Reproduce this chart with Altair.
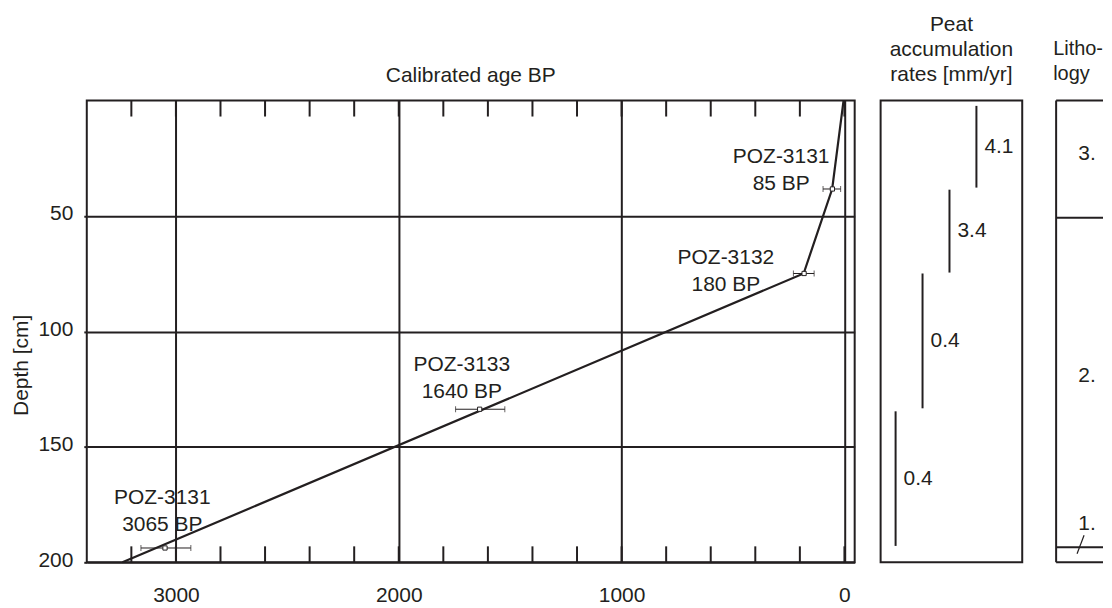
import altair as alt
import pandas as pd

INK = "#231f20"
FONT = "Liberation Sans"
FS = 21

# ---- age-depth model (calibrated age BP vs depth cm)
model_age = [4, 55, 183, 3240]
model_depth = [0, 38.3, 74.9, 200]

# ---- radiocarbon dates
lab_code = ["POZ-3131", "POZ-3132", "POZ-3133", "POZ-3131"]
lab_bp = ["85 BP", "180 BP", "1640 BP", "3065 BP"]
date_age = [54, 181, 1637, 3049]
date_depth = [38.3, 74.9, 133.7, 193.8]
date_lo = [17, 136, 1524, 2933]
date_hi = [96, 229, 1745, 3157]
label_age = [284, 532, 1717, 3061]
label_depth = [27.1, 71.0, 117.2, 174.8]

# ---- axes
age_major = [3000, 2000, 1000, 0]
age_minor = [3200, 3000, 2800, 2600, 2400, 2200, 2000, 1800, 1600, 1400,
             1200, 1000, 800, 600, 400, 200, 0]
depth_major = [50, 100, 150, 200]

# ---- peat accumulation rates
rate_top = [2.3, 38.6, 74.9, 134.6]
rate_bottom = [37.7, 74.5, 133.3, 192.9]
rate_label = ["4.1", "3.4", "0.4", "0.4"]
rate_step = [3, 2, 1, 0]

# ---- lithology
unit_bounds = [0, 50.8, 193.5, 200]
unit_label = ["3.", "2.", "1."]
unit_label_depth = [23, 119.5, 183.6]
leader_top = [188.3]
leader_bottom = [196.3]

W, H = 770, 463

model_df = pd.DataFrame({"age": model_age, "depth": model_depth})
dates_df = pd.DataFrame({
    "age": date_age, "depth": date_depth, "lo": date_lo, "hi": date_hi,
    "lx": label_age, "ly": label_depth,
    "txt": [c + "\n" + b for c, b in zip(lab_code, lab_bp)],
})
ticks_df = pd.DataFrame({"age": age_minor})

xs = alt.Scale(domain=[3400, -46], nice=False, zero=False)
ys = alt.Scale(domain=[0, 200], reverse=True, nice=False, zero=False)

x_axis = alt.Axis(values=age_major, format="d", grid=True, gridColor=INK, gridWidth=2,
                  gridOpacity=1, ticks=False, tickSize=0, domain=False,
                  labelFontSize=FS, labelFont=FONT, labelColor=INK,
                  labelBaseline="alphabetic", labelPadding=39, title=None)
y_axis = alt.Axis(values=depth_major, grid=True, gridColor=INK, gridWidth=2, gridOpacity=1,
                  ticks=True, tickSize=3, tickWidth=2, tickColor=INK, domain=False,
                  labelFontSize=FS, labelFont=FONT, labelColor=INK, labelPadding=11,
                  labelOffset=-2,
                  title="Depth [cm]", titleFontSize=FS, titleFont=FONT, titleColor=INK,
                  titleFontWeight="normal", titleX=-65, titleY=265, titleAngle=270,
                  titleAlign="center", titleBaseline="middle")

line = alt.Chart(model_df).mark_line(color=INK, strokeWidth=2.2).encode(
    x=alt.X("age:Q", scale=xs, axis=x_axis),
    y=alt.Y("depth:Q", scale=ys, axis=y_axis),
    order=alt.Order("depth:Q"),
)
top_ticks = alt.Chart(ticks_df).mark_rule(color=INK, strokeWidth=2).encode(
    x=alt.X("age:Q", scale=xs), y=alt.value(0), y2=alt.value(16))
bot_ticks = alt.Chart(ticks_df).mark_rule(color=INK, strokeWidth=2).encode(
    x=alt.X("age:Q", scale=xs), y=alt.value(H - 16), y2=alt.value(H))
err = alt.Chart(dates_df).mark_rule(color=INK, strokeWidth=1).encode(
    x=alt.X("lo:Q", scale=xs), x2="hi:Q", y=alt.Y("depth:Q", scale=ys))
cap_lo = alt.Chart(dates_df).mark_tick(orient="vertical", color=INK, size=6, thickness=1).encode(
    x=alt.X("lo:Q", scale=xs), y=alt.Y("depth:Q", scale=ys))
cap_hi = alt.Chart(dates_df).mark_tick(orient="vertical", color=INK, size=6, thickness=1).encode(
    x=alt.X("hi:Q", scale=xs), y=alt.Y("depth:Q", scale=ys))
pts = alt.Chart(dates_df).mark_point(shape="square", size=18, fill="white", stroke=INK,
                                     strokeWidth=1, opacity=1, fillOpacity=1).encode(
    x=alt.X("age:Q", scale=xs), y=alt.Y("depth:Q", scale=ys))
labels = alt.Chart(dates_df).mark_text(align="center", baseline="alphabetic", lineBreak="\n",
                                       lineHeight=26.7, fontSize=FS, font=FONT, color=INK).encode(
    x=alt.X("lx:Q", scale=xs), y=alt.Y("ly:Q", scale=ys), text="txt:N")

main = alt.layer(top_ticks, bot_ticks, line, err, cap_lo, cap_hi, pts, labels).properties(
    width=W, height=H, view=alt.ViewBackground(stroke=INK, strokeWidth=2),
    title=alt.TitleParams("Calibrated age BP", fontSize=FS, font=FONT, color=INK,
                          fontWeight="normal", anchor="middle", offset=10))

# ---- peat panel
peat_df = pd.DataFrame({"top": rate_top, "bottom": rate_bottom, "lab": rate_label, "step": rate_step})
px = alt.Scale(domain=[-0.556, 4.70], nice=False, zero=False)
peat_rules = alt.Chart(peat_df).mark_rule(color=INK, strokeWidth=2).encode(
    x=alt.X("step:Q", scale=px, axis=None),
    y=alt.Y("top:Q", scale=ys, axis=None), y2="bottom:Q")
peat_text = alt.Chart(peat_df).transform_calculate(mid="(datum.top + datum.bottom) / 2").mark_text(
    align="left", baseline="middle", dx=8, fontSize=FS, font=FONT, color=INK).encode(
    x=alt.X("step:Q", scale=px, axis=None),
    y=alt.Y("mid:Q", scale=ys, axis=None), text="lab:N")
peat = alt.layer(peat_rules, peat_text).properties(
    width=142, height=H, view=alt.ViewBackground(stroke=INK, strokeWidth=2),
    title=alt.TitleParams(["Peat", "accumulation", "rates [mm/yr]"], fontSize=FS, font=FONT,
                          color=INK, fontWeight="normal", anchor="middle", lineHeight=25,
                          offset=16))

# ---- lithology panel
LW = 47
bounds_df = pd.DataFrame({"depth": unit_bounds})
unit_df = pd.DataFrame({"lab": unit_label, "depth": unit_label_depth})
leader_df = pd.DataFrame({"top": leader_top, "bottom": leader_bottom})
lith_left = alt.Chart(bounds_df).mark_rule(color=INK, strokeWidth=2).encode(
    x=alt.value(0), y=alt.Y("min(depth):Q", scale=ys, axis=None), y2="max(depth):Q")
lith_h = alt.Chart(bounds_df).mark_rule(color=INK, strokeWidth=2).encode(
    x=alt.value(0), x2=alt.value(LW), y=alt.Y("depth:Q", scale=ys, axis=None))
lith_text = alt.Chart(unit_df).mark_text(align="center", baseline="middle", fontSize=FS,
                                         font=FONT, color=INK).encode(
    x=alt.value(31), y=alt.Y("depth:Q", scale=ys, axis=None), text="lab:N")
lith_leader = alt.Chart(leader_df).mark_rule(color=INK, strokeWidth=1.2).encode(
    x=alt.value(28), x2=alt.value(21), y=alt.Y("top:Q", scale=ys, axis=None), y2="bottom:Q")
lith = alt.layer(lith_left, lith_h, lith_text, lith_leader).properties(
    width=LW, height=H, view=alt.ViewBackground(strokeOpacity=0),
    title=alt.TitleParams(["Litho-", "logy"], fontSize=20, font=FONT, color=INK,
                          fontWeight="normal", anchor="start", lineHeight=25, offset=16, dx=-2))

chart = alt.hconcat(main, alt.hconcat(peat, lith, spacing=30), spacing=24).properties(
    padding={"left": 2, "top": 4, "right": 0, "bottom": 0}
).configure_view(stroke=INK, strokeWidth=2).configure(font=FONT)

chart.save("out.html", embed_options={"renderer": "svg", "actions": False})
